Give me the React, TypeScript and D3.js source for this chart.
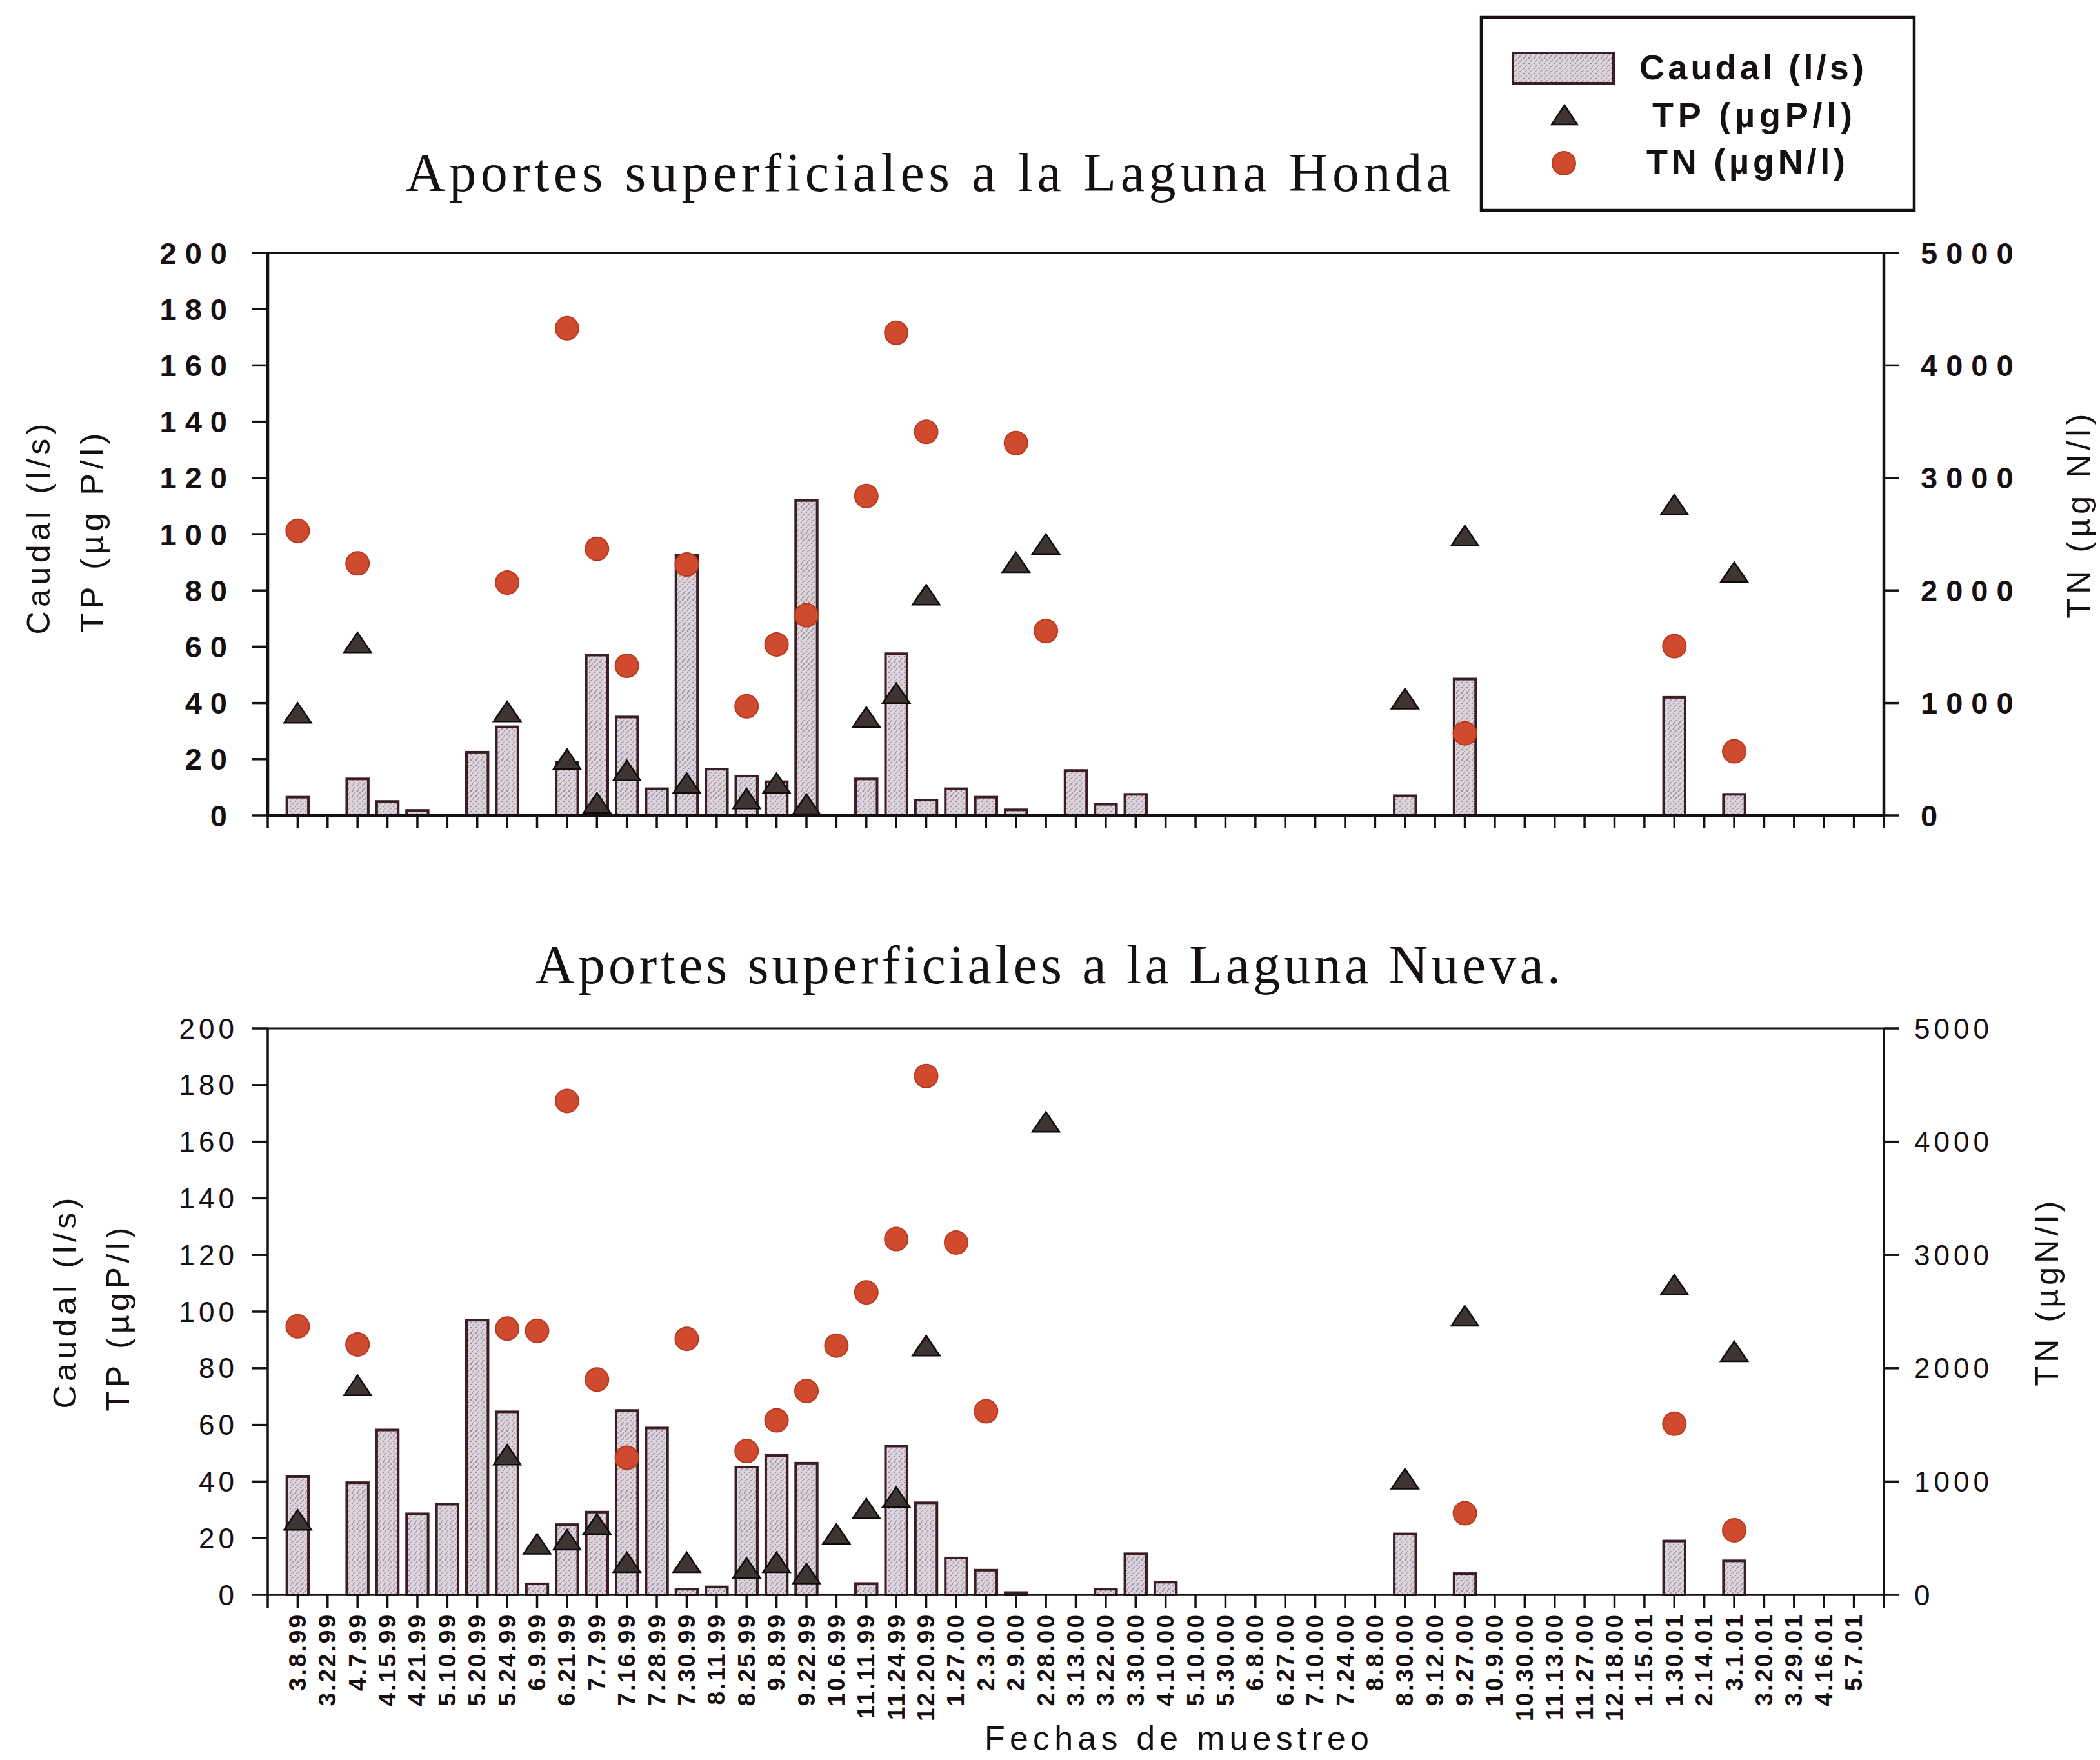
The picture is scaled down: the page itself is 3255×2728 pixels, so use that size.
import React from 'react';
import * as d3 from 'd3';

const FECHAS = ["3.8.99","3.22.99","4.7.99","4.15.99","4.21.99","5.10.99","5.20.99","5.24.99","6.9.99","6.21.99","7.7.99","7.16.99","7.28.99","7.30.99","8.11.99","8.25.99","9.8.99","9.22.99","10.6.99","11.11.99","11.24.99","12.20.99","1.27.00","2.3.00","2.9.00","2.28.00","3.13.00","3.22.00","3.30.00","4.10.00","5.10.00","5.30.00","6.8.00","6.27.00","7.10.00","7.24.00","8.8.00","8.30.00","9.12.00","9.27.00","10.9.00","10.30.00","11.13.00","11.27.00","12.18.00","1.15.01","1.30.01","2.14.01","3.1.01","3.20.01","3.29.01","4.16.01","5.7.01"];

// Laguna Honda
const HONDA_CAUDAL: [string, number][] = [["3.8.99",6.5],["4.7.99",13],["4.15.99",5],["4.21.99",1.8],["5.20.99",22.5],["5.24.99",31.5],["6.21.99",19],["7.7.99",57],["7.16.99",35],["7.28.99",9.5],["7.30.99",92.5],["8.11.99",16.5],["8.25.99",14],["9.8.99",12],["9.22.99",112],["11.11.99",13],["11.24.99",57.5],["12.20.99",5.5],["1.27.00",9.5],["2.3.00",6.5],["2.9.00",2],["3.13.00",16],["3.22.00",4],["3.30.00",7.5],["8.30.00",7],["9.27.00",48.5],["1.30.01",42],["3.1.01",7.5]];
const HONDA_TP: [string, number][] = [["3.8.99",36.5],["4.7.99",61.5],["5.24.99",37],["6.21.99",20],["7.7.99",4.5],["7.16.99",16],["7.30.99",11.5],["8.25.99",6],["9.8.99",11.5],["9.22.99",4],["11.11.99",35],["11.24.99",43.5],["12.20.99",78.5],["2.9.00",90],["2.28.00",96.5],["8.30.00",41.5],["9.27.00",99.5],["1.30.01",110.5],["3.1.01",86.5]];
const HONDA_TN: [string, number][] = [["3.8.99",2530],["4.7.99",2240],["5.24.99",2070],["6.21.99",4330],["7.7.99",2370],["7.16.99",1330],["7.30.99",2230],["8.25.99",970],["9.8.99",1520],["9.22.99",1780],["11.11.99",2840],["11.24.99",4290],["12.20.99",3410],["2.9.00",3310],["2.28.00",1640],["9.27.00",730],["1.30.01",1505],["3.1.01",570]];

// Laguna Nueva
const NUEVA_CAUDAL: [string, number][] = [["3.8.99",41.7],["4.7.99",39.6],["4.15.99",58.2],["4.21.99",28.6],["5.10.99",32],["5.20.99",97],["5.24.99",64.6],["6.9.99",3.9],["6.21.99",24.8],["7.7.99",29.2],["7.16.99",65.1],["7.28.99",58.9],["7.30.99",2],["8.11.99",2.8],["8.25.99",45.1],["9.8.99",49.2],["9.22.99",46.5],["11.11.99",4],["11.24.99",52.5],["12.20.99",32.5],["1.27.00",13],["2.3.00",8.7],["2.9.00",0.8],["3.22.00",2],["3.30.00",14.5],["4.10.00",4.5],["8.30.00",21.5],["9.27.00",7.5],["1.30.01",19],["3.1.01",12]];
const NUEVA_TP: [string, number][] = [["3.8.99",26.5],["4.7.99",74],["5.24.99",49.5],["6.9.99",18],["6.21.99",19.5],["7.7.99",25],["7.16.99",11.5],["7.30.99",11.5],["8.25.99",9.5],["9.8.99",11.5],["9.22.99",7.5],["10.6.99",21.5],["11.11.99",30.5],["11.24.99",34.5],["12.20.99",88],["2.28.00",167],["8.30.00",41],["9.27.00",98.5],["1.30.01",109.5],["3.1.01",86]];
const NUEVA_TN: [string, number][] = [["3.8.99",2370],["4.7.99",2210],["5.24.99",2350],["6.9.99",2330],["6.21.99",4360],["7.7.99",1900],["7.16.99",1210],["7.30.99",2260],["8.25.99",1270],["9.8.99",1540],["9.22.99",1800],["10.6.99",2200],["11.11.99",2670],["11.24.99",3140],["12.20.99",4580],["1.27.00",3110],["2.3.00",1620],["9.27.00",720],["1.30.01",1510],["3.1.01",570]];

const LEFT_TICKS = [0, 20, 40, 60, 80, 100, 120, 140, 160, 180, 200];
const RIGHT_TICKS = [0, 1000, 2000, 3000, 4000, 5000];

const SANS = "'Liberation Sans', Arial, sans-serif";
const SERIF = "'Liberation Serif', 'Times New Roman', serif";
const INK = '#161012';
const BAR_STROKE = '#3b1d26';
const TRI_FILL = '#3e3434';
const DOT_FILL = '#d04a2d';

const X0 = 415, X1 = 2920;

function triPath(cx: number, cy: number, w: number, h: number) {
  return `M${cx},${cy - h / 2}L${cx + w / 2},${cy + h / 2}L${cx - w / 2},${cy + h / 2}Z`;
}

type PanelProps = {
  top: number; bottom: number;
  caudal: [string, number][]; tp: [string, number][]; tn: [string, number][];
  strong: boolean;
  titleLeft: [string, number, number, number][];
  titleRight: [string, number, number, number];
  showXLabels: boolean;
};

function Panel(p: PanelProps) {
  const x = d3.scalePoint<string>().domain(FECHAS).range([X0, X1]).padding(1);
  const step = x.step();
  const y = d3.scaleLinear().domain([0, 200]).range([p.bottom, p.top]);
  const yr = d3.scaleLinear().domain([0, 5000]).range([p.bottom, p.top]);
  const bw = step * 0.72;
  const sw = p.strong ? 4.5 : 3.5;
  const tickFont = p.strong ? 47 : 44;
  const tickLs = p.strong ? 13 : 6;
  const tickWeight = p.strong ? 'bold' : 'normal';
  const xTicks = d3.range(FECHAS.length + 2).map(i => X0 + i * step);
  return (
    <g>
      {p.caudal.map(([f, v]) => (
        <rect key={'b' + f} x={(x(f) as number) - bw / 2} y={y(v)} width={bw}
          height={p.bottom - y(v)} fill="url(#stipple)" stroke={BAR_STROKE} strokeWidth={4} />
      ))}
      <line x1={X0} x2={X1} y1={p.top} y2={p.top} stroke={INK} strokeWidth={sw - 0.5} />
      <line x1={X0} x2={X0} y1={p.top} y2={p.bottom} stroke={INK} strokeWidth={sw} />
      <line x1={X1} x2={X1} y1={p.top} y2={p.bottom} stroke={INK} strokeWidth={sw} />
      <line x1={X0} x2={X1} y1={p.bottom} y2={p.bottom} stroke={INK} strokeWidth={sw} />
      {xTicks.map((t, i) => (
        <line key={'xt' + i} x1={t} x2={t} y1={p.bottom} y2={p.bottom + 20} stroke={INK} strokeWidth={3.5} />
      ))}
      {LEFT_TICKS.map(t => (
        <g key={'lt' + t}>
          <line x1={X0 - 24} x2={X0} y1={y(t)} y2={y(t)} stroke={INK} strokeWidth={3.5} />
          <text x={p.strong ? 352 + tickLs : 363 + tickLs} y={y(t)} textAnchor="end" dominantBaseline="central"
            fontFamily={SANS} fontSize={tickFont} fontWeight={tickWeight} letterSpacing={tickLs} fill={INK}>{t}</text>
        </g>
      ))}
      {RIGHT_TICKS.map(t => (
        <g key={'rt' + t}>
          <line x1={X1} x2={X1 + 24} y1={yr(t)} y2={yr(t)} stroke={INK} strokeWidth={3.5} />
          <text x={p.strong ? 2977 : 2967} y={yr(t)} textAnchor="start" dominantBaseline="central"
            fontFamily={SANS} fontSize={tickFont} fontWeight={tickWeight} letterSpacing={tickLs} fill={INK}>{t}</text>
        </g>
      ))}
      {p.titleLeft.map(([txt, cx, cy, len]) => (
        <text key={txt} transform={`translate(${cx},${cy}) rotate(-90)`} textAnchor="middle" dominantBaseline="central"
          fontFamily={SANS} fontSize={50} textLength={len} lengthAdjust="spacing" fill={INK}>{txt}</text>
      ))}
      <text transform={`translate(${p.titleRight[1]},${p.titleRight[2]}) rotate(-90)`} textAnchor="middle" dominantBaseline="central"
        fontFamily={SANS} fontSize={50} textLength={p.titleRight[3]} lengthAdjust="spacing" fill={INK}>{p.titleRight[0]}</text>
      {p.showXLabels && FECHAS.map(f => (
        <text key={'xl' + f} transform={`translate(${x(f)},${p.bottom + 28}) rotate(-90)`} textAnchor="end"
          dominantBaseline="central" fontFamily={SANS} fontSize={37} fontWeight="bold" letterSpacing={3} fill={INK}>{f}</text>
      ))}
      {p.tp.map(([f, v]) => (
        <path key={'t' + f} d={triPath(x(f) as number, y(v), 42, 31)} fill={TRI_FILL} stroke="#0e0a0a" strokeWidth={2.5} />
      ))}
      {p.tn.map(([f, v]) => (
        <circle key={'c' + f} cx={x(f) as number} cy={yr(v)} r={18} fill={DOT_FILL} stroke="#b8391f" strokeWidth={2} />
      ))}
    </g>
  );
}

export default function App() {
  return (
    <svg width={3255} height={2728} viewBox="0 0 3255 2728"
      style={{ position: 'absolute', left: 0, top: 0, background: '#fff' }}>
      <defs>
        <pattern id="stipple" width={8} height={8} patternUnits="userSpaceOnUse">
          <rect width={8} height={8} fill="#ddd4dc" />
          <circle cx={2} cy={2} r={1.3} fill="#9c8d9c" />
          <circle cx={6} cy={5} r={1.2} fill="#ab9cab" />
          <circle cx={4} cy={7} r={0.9} fill="#8f818f" />
        </pattern>
      </defs>
      <rect x={0} y={0} width={3255} height={2728} fill="#fff" />

      {/* legend */}
      <rect x={2296} y={27} width={671} height={299} fill="#fff" stroke={INK} strokeWidth={4.5} />
      <rect x={2345} y={82} width={156} height={47} fill="url(#stipple)" stroke={BAR_STROKE} strokeWidth={4} />
      <text x={2541} y={123} fontFamily={SANS} fontSize={54} fontWeight="bold" textLength={348} lengthAdjust="spacing" fill={INK}>Caudal (l/s)</text>
      <path d={triPath(2425, 178, 40, 30)} fill={TRI_FILL} stroke="#0e0a0a" strokeWidth={2.5} />
      <text x={2561} y={197} fontFamily={SANS} fontSize={54} fontWeight="bold" textLength={310} lengthAdjust="spacing" fill={INK}>TP (µgP/l)</text>
      <circle cx={2424} cy={253} r={18} fill={DOT_FILL} stroke="#b8391f" strokeWidth={2} />
      <text x={2552} y={269} fontFamily={SANS} fontSize={54} fontWeight="bold" textLength={308} lengthAdjust="spacing" fill={INK}>TN (µgN/l)</text>

      {/* titles */}
      <text x={629} y={296} fontFamily={SERIF} fontSize={84} textLength={1619} lengthAdjust="spacing" fill={INK}>Aportes superficiales a la Laguna Honda</text>
      <text x={830} y={1524} fontFamily={SERIF} fontSize={84} textLength={1589} lengthAdjust="spacing" fill={INK}>Aportes superficiales a la Laguna Nueva.</text>

      <Panel top={392} bottom={1264} caudal={HONDA_CAUDAL} tp={HONDA_TP} tn={HONDA_TN} strong={true}
        titleLeft={[["Caudal (l/s)", 60, 820, 327], ["TP (µg P/l)", 143, 826, 309]]}
        titleRight={["TN (µg N/l)", 3222, 800, 317]} showXLabels={false} />
      <Panel top={1594} bottom={2472} caudal={NUEVA_CAUDAL} tp={NUEVA_TP} tn={NUEVA_TN} strong={false}
        titleLeft={[["Caudal (l/s)", 101, 2020, 327], ["TP (µgP/l)", 183, 2045, 285]]}
        titleRight={["TN (µgN/l)", 3173, 2005, 287]} showXLabels={true} />

      <text x={1526} y={2712} fontFamily={SANS} fontSize={52} textLength={596} lengthAdjust="spacing" fill={INK}>Fechas de muestreo</text>
    </svg>
  );
}
